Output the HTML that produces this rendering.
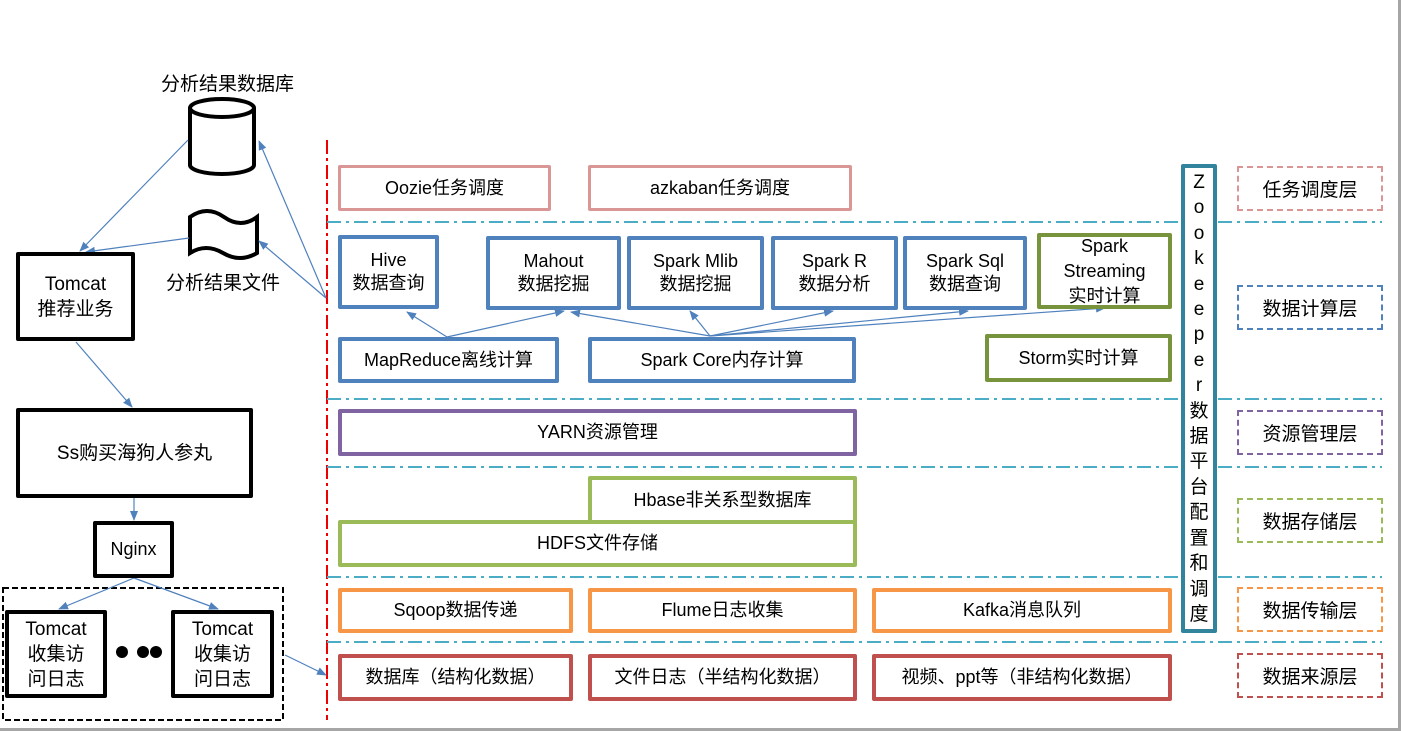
<!DOCTYPE html>
<html><head><meta charset="utf-8"><style>
*{margin:0;padding:0;box-sizing:border-box}
body{width:1401px;height:731px;background:#fff;position:relative;overflow:hidden;font-family:"Liberation Sans","Noto Sans CJK SC",sans-serif;color:#000}
.b{position:absolute;display:flex;align-items:center;justify-content:center;text-align:center;font-size:18px;line-height:23px;background:#fff;border-radius:2px}
.bl{border:4px solid #4f81bd}.gr{border:4px solid #77933c}.pk{border:3px solid #d99694}
.pu{border:4px solid #8064a2}.lg{border:4px solid #9bbb59}.or{border:4px solid #f79646}.rd{border:4px solid #c0504d}
.k{border:4px solid #000}
.lay{position:absolute;left:1237px;width:146px;height:45px;display:flex;align-items:center;justify-content:center;font-size:19px;border:2px dashed}
.t{position:absolute;font-size:19px}
</style></head><body>
<svg width="1401" height="731" style="position:absolute;left:0;top:0">
<defs><marker id="a" markerWidth="10" markerHeight="8" refX="9" refY="4" orient="auto" markerUnits="userSpaceOnUse"><path d="M0,0L10,4L0,8z" fill="#4f81bd"/></marker></defs>
<line x1="1399.5" y1="0" x2="1399.5" y2="731" stroke="#a6a6a6" stroke-width="3"/>
<line x1="0" y1="729.5" x2="1401" y2="729.5" stroke="#a6a6a6" stroke-width="3"/>
<line x1="327" y1="140" x2="327" y2="720" stroke="#e00" stroke-width="2" stroke-dasharray="14,4,3,4"/>
<g stroke="#4bacc6" stroke-width="2" stroke-dasharray="14,5,3,5">
<line x1="327" y1="222" x2="1382" y2="222"/><line x1="327" y1="399" x2="1382" y2="399"/>
<line x1="327" y1="467" x2="1382" y2="467"/><line x1="327" y1="577" x2="1382" y2="577"/>
<line x1="327" y1="642" x2="1382" y2="642"/></g>
<path d="M190,108 v57 a32,9 0 0 0 64,0 v-57" fill="#fff" stroke="#000" stroke-width="4"/>
<ellipse cx="222" cy="108" rx="32" ry="9" fill="#fff" stroke="#000" stroke-width="4"/>
<path d="M190,217 q17,-12 34,0 t33,0 v36 q-17,10 -34,0 t-33,0 z" fill="#fff" stroke="#000" stroke-width="4"/>
<rect x="3" y="588" width="280" height="132" fill="none" stroke="#000" stroke-width="2" stroke-dasharray="6,3"/>
<g stroke="#4f81bd" stroke-width="1.2" marker-end="url(#a)">
<line x1="188" y1="140" x2="80" y2="251"/><line x1="189" y1="238" x2="86" y2="252"/>
<line x1="326" y1="298" x2="259" y2="141"/><line x1="326" y1="298" x2="259" y2="241"/>
<line x1="76" y1="342" x2="132" y2="407"/><line x1="134" y1="497" x2="134" y2="520"/>
<line x1="134" y1="578" x2="59" y2="609"/><line x1="134" y1="578" x2="218" y2="609"/>
<line x1="285" y1="655" x2="326" y2="675"/>
<line x1="447" y1="337" x2="407" y2="312"/><line x1="447" y1="337" x2="564" y2="311"/>
<line x1="710" y1="336" x2="571" y2="312"/><line x1="710" y1="336" x2="690" y2="311"/>
<line x1="710" y1="336" x2="833" y2="311"/><line x1="710" y1="336" x2="968" y2="311"/>
<line x1="710" y1="336" x2="1105" y2="308"/>
</g>
<circle cx="122" cy="652" r="6"/><circle cx="143" cy="652" r="6"/><circle cx="156" cy="652" r="6"/>
</svg>
<div class="t" style="left:161px;top:69px">分析结果数据库</div>
<div class="t" style="left:166px;top:268px">分析结果文件</div>
<div class="b k" style="left:16px;top:252px;width:119px;height:89px;font-size:19px;line-height:25px">Tomcat<br>推荐业务</div>
<div class="b k" style="left:16px;top:408px;width:237px;height:90px;font-size:19px">Ss购买海狗人参丸</div>
<div class="b k" style="left:93px;top:521px;width:81px;height:57px">Nginx</div>
<div class="b k" style="left:5px;top:610px;width:102px;height:88px;font-size:19px;line-height:25px">Tomcat<br>收集访<br>问日志</div>
<div class="b k" style="left:171px;top:610px;width:103px;height:88px;font-size:19px;line-height:25px">Tomcat<br>收集访<br>问日志</div>

<div class="b pk" style="left:338px;top:165px;width:213px;height:46px">Oozie任务调度</div>
<div class="b pk" style="left:588px;top:165px;width:264px;height:46px">azkaban任务调度</div>
<div class="b bl" style="left:338px;top:235px;width:101px;height:74px">Hive<br>数据查询</div>
<div class="b bl" style="left:486px;top:236px;width:135px;height:74px">Mahout<br>数据挖掘</div>
<div class="b bl" style="left:627px;top:236px;width:137px;height:74px">Spark Mlib<br>数据挖掘</div>
<div class="b bl" style="left:771px;top:236px;width:127px;height:74px">Spark R<br>数据分析</div>
<div class="b bl" style="left:903px;top:236px;width:124px;height:74px">Spark Sql<br>数据查询</div>
<div class="b gr" style="left:1037px;top:233px;width:135px;height:76px;line-height:25px">Spark<br>Streaming<br>实时计算</div>
<div class="b bl" style="left:338px;top:337px;width:221px;height:46px">MapReduce离线计算</div>
<div class="b bl" style="left:588px;top:337px;width:268px;height:46px">Spark Core内存计算</div>
<div class="b gr" style="left:985px;top:334px;width:187px;height:48px">Storm实时计算</div>
<div class="b pu" style="left:338px;top:409px;width:519px;height:47px">YARN资源管理</div>
<div class="b lg" style="left:588px;top:476px;width:269px;height:48px">Hbase非关系型数据库</div>
<div class="b lg" style="left:338px;top:520px;width:519px;height:47px">HDFS文件存储</div>
<div class="b or" style="left:338px;top:588px;width:235px;height:45px">Sqoop数据传递</div>
<div class="b or" style="left:588px;top:588px;width:269px;height:45px">Flume日志收集</div>
<div class="b or" style="left:872px;top:588px;width:300px;height:45px">Kafka消息队列</div>
<div class="b rd" style="left:338px;top:654px;width:235px;height:47px">数据库（结构化数据）</div>
<div class="b rd" style="left:588px;top:654px;width:269px;height:47px">文件日志（半结构化数据）</div>
<div class="b rd" style="left:872px;top:654px;width:300px;height:47px">视频、ppt等（非结构化数据）</div>
<div class="b" style="left:1181px;top:164px;width:36px;height:469px;border:4px solid #31849b;font-size:19px;line-height:25.4px;align-items:flex-start;padding-top:2px">Z<br>o<br>o<br>k<br>e<br>e<br>p<br>e<br>r<br>数<br>据<br>平<br>台<br>配<br>置<br>和<br>调<br>度</div>

<div class="lay" style="top:166px;border-color:#d99694">任务调度层</div>
<div class="lay" style="top:285px;border-color:#4f81bd">数据计算层</div>
<div class="lay" style="top:410px;border-color:#8064a2">资源管理层</div>
<div class="lay" style="top:498px;border-color:#9bbb59">数据存储层</div>
<div class="lay" style="top:587px;border-color:#f79646">数据传输层</div>
<div class="lay" style="top:653px;border-color:#c0504d">数据来源层</div>
</body></html>
